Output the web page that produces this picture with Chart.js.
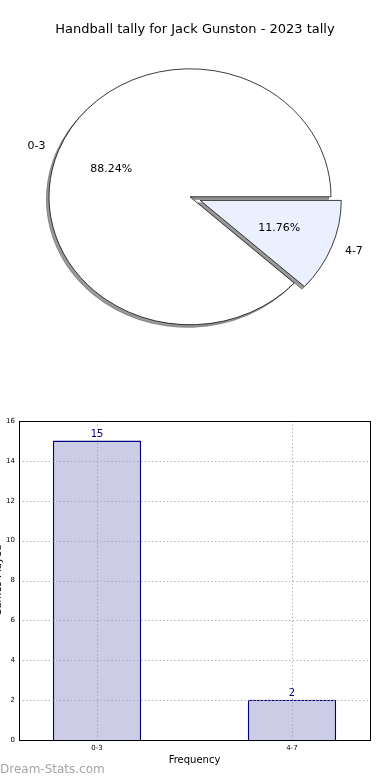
<!DOCTYPE html>
<html>
<head>
<meta charset="utf-8">
<script src="https://cdn.jsdelivr.net/npm/chart.js@4.4.0/dist/chart.umd.min.js"></script>
<style>
html, body { margin: 0; padding: 0; background: #fff; }
body { width: 390px; height: 780px; position: relative; overflow: hidden; }
#pieBox { position: absolute; left: 0; top: 0; width: 390px; height: 400px; }
#barBox { position: absolute; left: -12px; top: 400px; width: 402px; height: 380px; }
#mark { position: absolute; left: 0; top: 762px; font: 12px 'DejaVu Sans', sans-serif; color: #a4a4a4; }
</style>
</head>
<body>
<div id="pieBox"><canvas id="pie"></canvas></div>
<div id="barBox"><canvas id="bar"></canvas></div>
<div id="mark">Dream-Stats.com</div>
<script>
var chartTitle = 'Handball tally for Jack Gunston - 2023 tally';
var categories = ['0-3', '4-7'];
var counts = [15, 2];
var yTicks = [0, 2, 4, 6, 8, 10, 12, 14, 16];
var xTitle = 'Frequency';
var yTitle = 'Games Played';

// look of the pie (matplotlib style: squashed, exploded, shadowed)
var SQUASH = 128 / 141;
var SHIFT_X = -5;
var EXPLODE = [0, 11];
var SHADOW = { dx: -2.5, dy: 2.5, fill: '#9a9a9a', edge: '#6e6e6e' };
var FONT = 'DejaVu Sans';

var total = counts.reduce(function(a, b) { return a + b; }, 0);

function piePoint(arc, i, f) {
    var p = arc.getProps(['x', 'y', 'startAngle', 'endAngle', 'outerRadius'], true);
    var mid = (p.startAngle + p.endAngle) / 2;
    var d = EXPLODE[i] + p.outerRadius * f;
    return {
        x: p.x + SHIFT_X + Math.cos(mid) * d,
        y: p.y + Math.sin(mid) * d * SQUASH,
        left: Math.cos(mid) < 0
    };
}

function drawArcs(ctx, arcs, dx, dy, shadow) {
    var c = arcs[0];
    ctx.save();
    ctx.translate(c.x + SHIFT_X + dx, c.y + dy);
    ctx.scale(1, SQUASH);
    ctx.translate(-c.x, -c.y);
    arcs.forEach(function(arc, i) {
        var mid = (arc.startAngle + arc.endAngle) / 2;
        var o = arc.options;
        var bg = o.backgroundColor, bc = o.borderColor;
        if (shadow) { o.backgroundColor = SHADOW.fill; o.borderColor = SHADOW.edge; }
        ctx.save();
        ctx.translate(Math.cos(mid) * EXPLODE[i], Math.sin(mid) * EXPLODE[i]);
        arc.draw(ctx);
        ctx.restore();
        o.backgroundColor = bg; o.borderColor = bc;
    });
    ctx.restore();
}

var piePlugin = {
    id: 'pieLook',
    beforeDatasetDraw: function(chart, args) {
        var ctx = chart.ctx;
        var arcs = args.meta.data;
        drawArcs(ctx, arcs, SHADOW.dx, SHADOW.dy, true);
        drawArcs(ctx, arcs, 0, 0, false);

        ctx.save();
        ctx.font = '11px "' + FONT + '"';
        ctx.fillStyle = '#000';
        ctx.textBaseline = 'middle';
        arcs.forEach(function(arc, i) {
            var q = piePoint(arc, i, 0.6);
            ctx.textAlign = 'center';
            ctx.fillText((counts[i] / total * 100).toFixed(2) + '%', q.x, q.y);
            var l = piePoint(arc, i, 1.1);
            ctx.textAlign = l.left ? 'right' : 'left';
            ctx.fillText(categories[i], l.x, l.y);
        });
        ctx.restore();
        return false;
    }
};

new Chart(document.getElementById('pie'), {
    type: 'pie',
    data: {
        labels: categories,
        datasets: [{
            data: counts,
            backgroundColor: ['#ffffff', '#eaf0fd'],
            borderColor: '#000',
            borderWidth: 0.8,
            radius: 141,
            rotation: 90 + 360 * counts[1] / total
        }]
    },
    options: {
        responsive: true,
        maintainAspectRatio: false,
        animation: false,
        layout: { padding: { top: 0, bottom: 54 } },
        plugins: {
            legend: { display: false },
            tooltip: { enabled: false },
            title: {
                display: true,
                text: chartTitle,
                color: '#000',
                font: { family: FONT, size: 13, weight: 'normal' },
                padding: { top: 22, bottom: 10 }
            }
        }
    },
    plugins: [piePlugin]
});

// dotted grid drawn over the bars, then the frame and the value labels
var barPlugin = {
    id: 'barLook',
    afterDraw: function(chart) {
        var ctx = chart.ctx, a = chart.chartArea;
        var xs = chart.scales.x, ys = chart.scales.y;
        ctx.save();
        ctx.strokeStyle = '#a4a4a4';
        ctx.lineWidth = 1;
        ctx.setLineDash([1.2, 2.5]);
        ctx.beginPath();
        yTicks.forEach(function(v) {
            var y = Math.round(ys.getPixelForValue(v)) + 0.5;
            ctx.moveTo(a.left, y);
            ctx.lineTo(a.right, y);
        });
        categories.forEach(function(c, i) {
            var x = Math.round(xs.getPixelForValue(i)) + 0.5;
            ctx.moveTo(x, a.top);
            ctx.lineTo(x, a.bottom);
        });
        ctx.stroke();
        ctx.setLineDash([]);

        ctx.strokeStyle = '#000';
        ctx.strokeRect(Math.round(a.left) + 0.5, Math.round(a.top) + 0.5,
            Math.round(a.right - a.left), Math.round(a.bottom - a.top));

        ctx.fillStyle = '#000080';
        ctx.font = '10px "' + FONT + '"';
        ctx.textAlign = 'center';
        ctx.textBaseline = 'bottom';
        chart.getDatasetMeta(0).data.forEach(function(bar, i) {
            ctx.fillText(String(counts[i]), bar.x, bar.y - 2);
        });
        ctx.restore();
    }
};

var tickFont = { family: FONT, size: 7 };

new Chart(document.getElementById('bar'), {
    type: 'bar',
    data: {
        datasets: [{
            data: categories.map(function(c, i) { return { x: i, y: counts[i] }; }),
            backgroundColor: '#ccccE6',
            borderColor: '#000080',
            borderWidth: 1.3,
            barThickness: 'flex',
            barPercentage: 0.45,
            categoryPercentage: 1
        }]
    },
    options: {
        responsive: true,
        maintainAspectRatio: false,
        animation: false,
        layout: { padding: { top: 21, right: 20, left: 0, bottom: 0 } },
        plugins: { legend: { display: false }, tooltip: { enabled: false } },
        scales: {
            x: {
                type: 'linear',
                min: -0.4,
                max: 1.4,
                offset: false,
                afterBuildTicks: function(s) {
                    s.ticks = categories.map(function(c, i) { return { value: i }; });
                },
                afterFit: function(s) { s.height = 40; },
                ticks: {
                    color: '#000', font: tickFont, padding: 4,
                    callback: function(v) { return categories[v] || ''; }
                },
                grid: { display: false, drawTicks: false, offset: false },
                border: { color: '#000' },
                title: {
                    display: true, text: xTitle, color: '#000',
                    font: { family: FONT, size: 10 }, padding: { top: 0, bottom: 14 }
                }
            },
            y: {
                min: 0,
                max: 16,
                afterBuildTicks: function(s) {
                    s.ticks = yTicks.map(function(v) { return { value: v }; });
                },
                afterFit: function(s) { s.width = 31; },
                ticks: { color: '#000', font: tickFont, padding: 4 },
                grid: { display: false, drawTicks: false },
                border: { color: '#000' },
                title: {
                    display: true, text: yTitle, color: '#000',
                    font: { family: FONT, size: 10 }, padding: { top: 4, bottom: 0 }
                }
            }
        }
    },
    plugins: [barPlugin]
});
</script>
</body>
</html>
